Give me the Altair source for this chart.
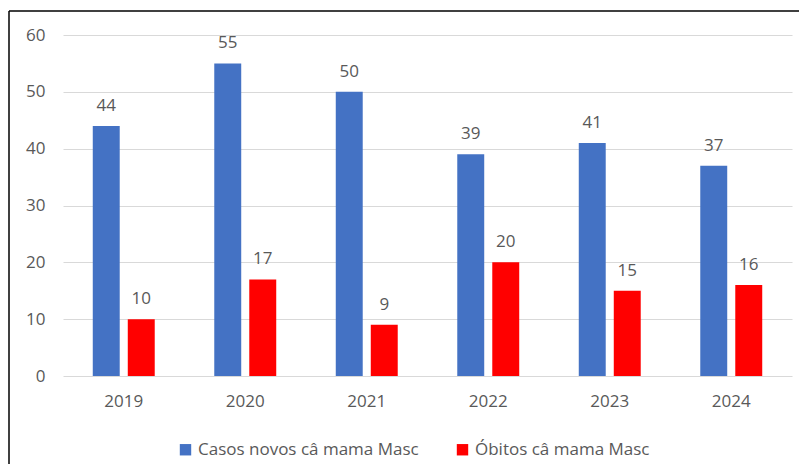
import altair as alt
import pandas as pd

anos = ["2019", "2020", "2021", "2022", "2023", "2024"]
casos = [44, 55, 50, 39, 41, 37]
obitos = [10, 17, 9, 20, 15, 16]
series = ["Casos novos câ mama Masc", "Óbitos câ mama Masc"]
cores = ["#4472C4", "#FF0000"]

rows = []
for a, c, o in zip(anos, casos, obitos):
    rows.append({"ano": a, "serie": series[0], "valor": c})
    rows.append({"ano": a, "serie": series[1], "valor": o})
df = pd.DataFrame(rows)

FONT = "Open Sans"
GRAY = "#595959"

x_scale = alt.Scale(paddingInner=0.49, paddingOuter=0.245)
xoff_scale = alt.Scale(paddingInner=0.23, paddingOuter=0)

x_enc = alt.X("ano:N", title=None, sort=anos, scale=x_scale,
              axis=alt.Axis(labelAngle=0, ticks=False, domain=False, grid=False,
                            labelFont=FONT, labelFontSize=17, labelColor=GRAY,
                            labelPadding=17))
xoff = alt.XOffset("serie:N", sort=series, scale=xoff_scale)
y_enc = alt.Y("valor:Q", title=None,
              scale=alt.Scale(domain=[0, 60]),
              axis=alt.Axis(values=[0, 10, 20, 30, 40, 50, 60], ticks=False, domain=False,
                            grid=True, gridColor="#D9D9D9", gridWidth=1,
                            labelFont=FONT, labelFontSize=17, labelColor=GRAY,
                            labelPadding=18))

base = alt.Chart(df)

bars = base.mark_bar().encode(
    x=x_enc,
    xOffset=xoff,
    y=y_enc,
    color=alt.Color("serie:N", sort=series,
                    scale=alt.Scale(domain=series, range=cores),
                    legend=alt.Legend(title=None, orient="none", direction="horizontal",
                                      legendX=114, legendY=406,
                                      symbolType="square", symbolSize=130,
                                      symbolStrokeWidth=0,
                                      labelFont=FONT, labelFontSize=17, labelColor=GRAY,
                                      labelOffset=4, columnPadding=35, labelLimit=400)),
)

labels = base.mark_text(font=FONT, fontSize=17, color=GRAY, baseline="alphabetic", dy=-15).encode(
    x=alt.X("ano:N", sort=anos, scale=x_scale, axis=None),
    xOffset=xoff,
    y=alt.Y("valor:Q", scale=alt.Scale(domain=[0, 60]), axis=None),
    text="valor:Q",
)

frame_left = alt.Chart(pd.DataFrame({"k": [0]})).mark_rule(color="black", strokeWidth=1.5).encode(
    x=alt.value(-54), y=alt.value(-24), y2=alt.value(440))
frame_top = alt.Chart(pd.DataFrame({"k": [0]})).mark_rule(color="black", strokeWidth=1.5).encode(
    x=alt.value(-54), x2=alt.value(740), y=alt.value(-24))

chart = alt.layer(bars, labels, frame_left, frame_top).resolve_axis(x="independent", y="independent").properties(
    width=729, height=341,
    background="white",
    autosize=alt.AutoSizeParams(type="none"),
    padding={"left": 55, "top": 27, "right": 7, "bottom": 88},
).configure_view(stroke=None)

chart.save("out.html", embed_options={"renderer": "svg", "actions": False})
